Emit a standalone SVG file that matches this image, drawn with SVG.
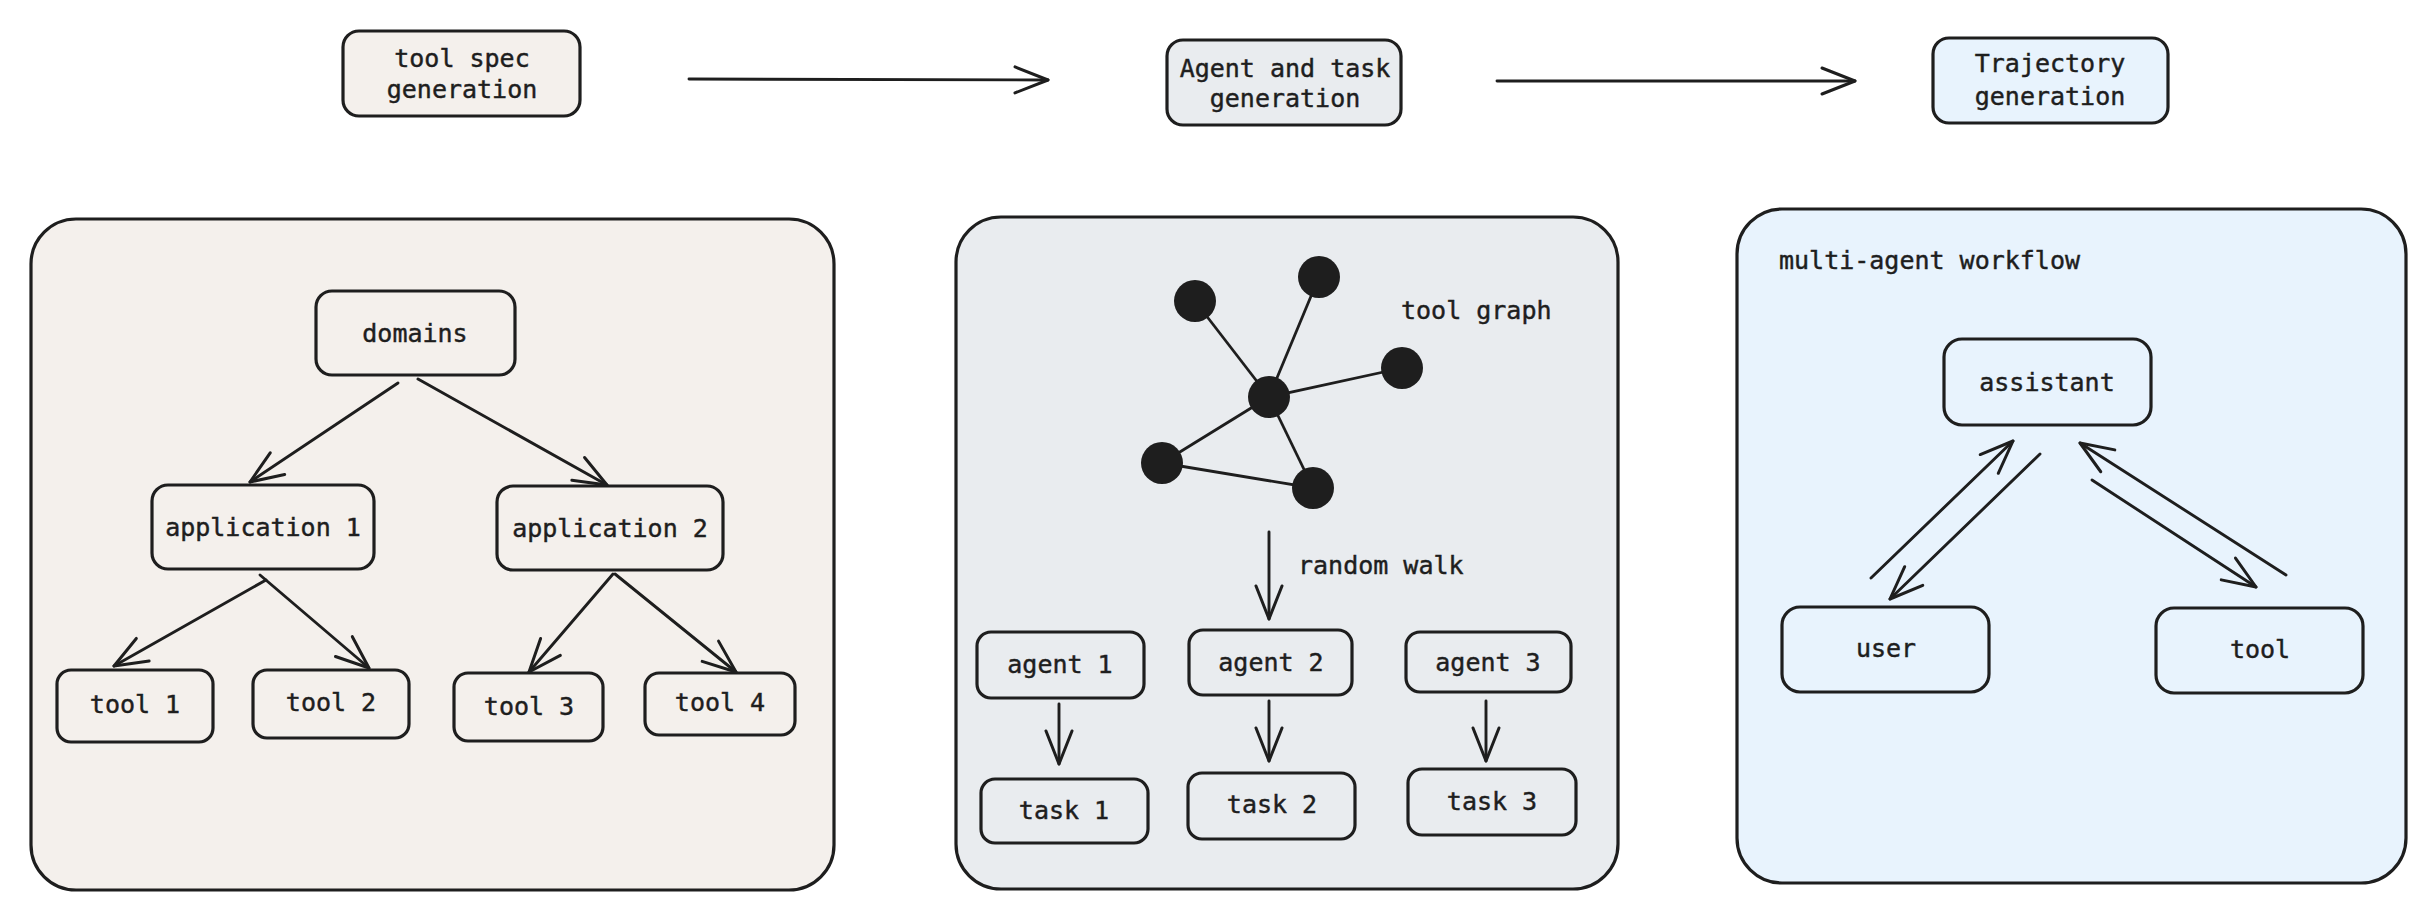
<svg xmlns="http://www.w3.org/2000/svg" width="2426" height="908" viewBox="0 0 2426 908">
<defs>
<style>
.box{stroke:#1e1e1e;stroke-width:3.2;stroke-linejoin:round}
.inner{fill:none;stroke:#1e1e1e;stroke-width:3.2}
.beige{fill:#f4f0ec}
.grey{fill:#e9ecef}
.blue{fill:#e8f3fd}
.t{font-family:"DejaVu Sans Mono","Liberation Mono",monospace;font-size:25px;fill:#1e1e1e;stroke:#1e1e1e;stroke-width:0.45;text-anchor:middle}
.tl{font-family:"DejaVu Sans Mono","Liberation Mono",monospace;font-size:25px;fill:#1e1e1e;stroke:#1e1e1e;stroke-width:0.45;text-anchor:start}
.c{fill:none;stroke:#1e1e1e;stroke-width:2.9;stroke-linecap:round}
.e{stroke:#1e1e1e;stroke-width:2.8}
.dot{fill:#1e1e1e}
</style>
<marker id="ah" markerUnits="userSpaceOnUse" markerWidth="80" markerHeight="80" viewBox="-40 -40 80 80" refX="0" refY="0" orient="auto" overflow="visible">
<path d="M-33,-13 L0,0 L-33,13" fill="none" stroke="#1e1e1e" stroke-width="3" stroke-linecap="round" stroke-linejoin="round"/>
</marker>
</defs>
<rect width="2426" height="908" fill="#ffffff"/>

<!-- panels -->
<g id="panel-tool-spec"><rect class="box beige" x="31" y="219" width="803" height="671" rx="45"/></g>
<g id="panel-agent-task"><rect class="box grey" x="956" y="217" width="662" height="672" rx="45"/></g>
<g id="panel-trajectory"><rect class="box blue" x="1737" y="209" width="669" height="674" rx="45"/>
<text class="tl" x="1779" y="269">multi-agent workflow</text></g>

<!-- top stage nodes -->
<g id="stage-tool-spec"><rect class="box beige" x="343" y="31" width="237" height="85" rx="16"/>
<text class="t" x="462" y="67">tool spec</text><text class="t" x="462" y="98">generation</text></g>
<g id="stage-agent-task"><rect class="box grey" x="1167" y="40" width="234" height="85" rx="16"/>
<text class="t" x="1285" y="77">Agent and task</text><text class="t" x="1285" y="107">generation</text></g>
<g id="stage-trajectory"><rect class="box blue" x="1933" y="38" width="235" height="85" rx="16"/>
<text class="t" x="2050" y="72">Trajectory</text><text class="t" x="2050" y="105">generation</text></g>

<!-- panel 1 nodes -->
<g id="domains"><rect class="inner" x="316" y="291" width="199" height="84" rx="16"/><text class="t" x="415" y="342">domains</text></g>
<g id="application-1"><rect class="inner" x="152" y="485" width="222" height="84" rx="16"/><text class="t" x="263" y="536">application 1</text></g>
<g id="application-2"><rect class="inner" x="497" y="486" width="226" height="84" rx="16"/><text class="t" x="610" y="537">application 2</text></g>
<g id="tool-1"><rect class="inner" x="57" y="670" width="156" height="72" rx="14"/><text class="t" x="135" y="713">tool 1</text></g>
<g id="tool-2"><rect class="inner" x="253" y="670" width="156" height="68" rx="14"/><text class="t" x="331" y="711">tool 2</text></g>
<g id="tool-3"><rect class="inner" x="454" y="673" width="149" height="68" rx="14"/><text class="t" x="529" y="715">tool 3</text></g>
<g id="tool-4"><rect class="inner" x="645" y="673" width="150" height="62" rx="14"/><text class="t" x="720" y="711">tool 4</text></g>

<!-- panel 2 nodes -->
<g id="tool-graph">
<line class="e" x1="1195" y1="301" x2="1269" y2="397"/>
<line class="e" x1="1319" y1="277" x2="1269" y2="397"/>
<line class="e" x1="1402" y1="368" x2="1269" y2="397"/>
<line class="e" x1="1162" y1="463" x2="1269" y2="397"/>
<line class="e" x1="1313" y1="488" x2="1269" y2="397"/>
<line class="e" x1="1162" y1="463" x2="1313" y2="488"/>
<circle class="dot" cx="1195" cy="301" r="21"/>
<circle class="dot" cx="1319" cy="277" r="21"/>
<circle class="dot" cx="1269" cy="397" r="21"/>
<circle class="dot" cx="1402" cy="368" r="21"/>
<circle class="dot" cx="1162" cy="463" r="21"/>
<circle class="dot" cx="1313" cy="488" r="21"/>
<text class="tl" x="1401" y="319">tool graph</text>
</g>
<g id="agent-1"><rect class="inner" x="977" y="632" width="167" height="66" rx="14"/><text class="t" x="1060" y="673">agent 1</text></g>
<g id="agent-2"><rect class="inner" x="1189" y="630" width="163" height="65" rx="14"/><text class="t" x="1271" y="671">agent 2</text></g>
<g id="agent-3"><rect class="inner" x="1406" y="632" width="165" height="60" rx="14"/><text class="t" x="1488" y="671">agent 3</text></g>
<g id="task-1"><rect class="inner" x="981" y="779" width="167" height="64" rx="14"/><text class="t" x="1064" y="819">task 1</text></g>
<g id="task-2"><rect class="inner" x="1188" y="773" width="167" height="66" rx="14"/><text class="t" x="1272" y="813">task 2</text></g>
<g id="task-3"><rect class="inner" x="1408" y="769" width="168" height="66" rx="14"/><text class="t" x="1492" y="810">task 3</text></g>

<!-- panel 3 nodes -->
<g id="assistant"><rect class="inner" x="1944" y="339" width="207" height="86" rx="18"/><text class="t" x="2047" y="391">assistant</text></g>
<g id="user"><rect class="inner" x="1782" y="607" width="207" height="85" rx="18"/><text class="t" x="1886" y="657">user</text></g>
<g id="tool"><rect class="inner" x="2156" y="608" width="207" height="85" rx="18"/><text class="t" x="2260" y="658">tool</text></g>

<!-- connectors -->
<g id="connectors">
<line class="c" x1="689" y1="79" x2="1048" y2="80" marker-end="url(#ah)"/>
<line class="c" x1="1497" y1="81" x2="1855" y2="81" marker-end="url(#ah)"/>

<line class="c" x1="398" y1="383" x2="250" y2="482" marker-end="url(#ah)"/>
<line class="c" x1="418" y1="379" x2="607" y2="485" marker-end="url(#ah)"/>
<line class="c" x1="266" y1="580" x2="114" y2="666" marker-end="url(#ah)"/>
<line class="c" x1="260" y1="575" x2="369" y2="668" marker-end="url(#ah)"/>
<line class="c" x1="613" y1="574" x2="529" y2="672" marker-end="url(#ah)"/>
<line class="c" x1="615" y1="574" x2="736" y2="672" marker-end="url(#ah)"/>

<line class="c" x1="1269" y1="532" x2="1269" y2="619" marker-end="url(#ah)"/>
<text class="tl" x="1298" y="574">random walk</text>
<line class="c" x1="1059" y1="704" x2="1059" y2="764" marker-end="url(#ah)"/>
<line class="c" x1="1269" y1="701" x2="1269" y2="761" marker-end="url(#ah)"/>
<line class="c" x1="1486" y1="701" x2="1486" y2="761" marker-end="url(#ah)"/>

<line class="c" x1="1871" y1="578" x2="2013" y2="441" marker-end="url(#ah)"/>
<line class="c" x1="2040" y1="454" x2="1890" y2="599" marker-end="url(#ah)"/>
<line class="c" x1="2092" y1="480" x2="2256" y2="587" marker-end="url(#ah)"/>
<line class="c" x1="2286" y1="575" x2="2080" y2="443" marker-end="url(#ah)"/>
</g>
</svg>
